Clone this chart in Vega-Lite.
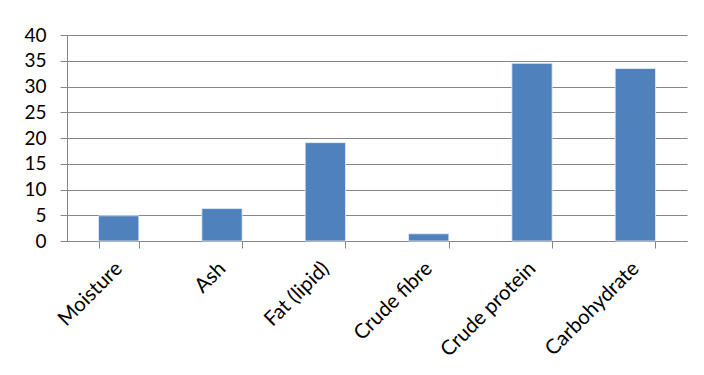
{
  "$schema": "https://vega.github.io/schema/vega-lite/v6.json",
  "autosize": {"type": "none"},
  "width": 620,
  "height": 206,
  "padding": {"left": 67, "top": 35, "right": 17, "bottom": 134},
  "background": "white",
  "data": {
    "values": [
      {"component": "Moisture", "value": 4.9},
      {"component": "Ash", "value": 6.3},
      {"component": "Fat (lipid)", "value": 19.1},
      {"component": "Crude fibre", "value": 1.4},
      {"component": "Crude protein", "value": 34.5},
      {"component": "Carbohydrate", "value": 33.5}
    ]
  },
  "mark": {"type": "bar", "color": "#4F81BD", "stroke": "#e8eef7", "strokeWidth": 0.8},
  "encoding": {
    "x": {
      "field": "component",
      "type": "nominal",
      "sort": null,
      "scale": {"paddingInner": 0.61, "paddingOuter": 0.305},
      "axis": {
        "title": null,
        "labelAngle": -45,
        "labelFont": "Lato",
        "labelFontSize": 20.5,
        "labelColor": "#000000",
        "labelPadding": 10,
        "labelOffset": -7,
        "tickBand": "extent",
        "tickSize": 7,
        "tickColor": "#868686",
        "domainColor": "#868686",
        "grid": false
      }
    },
    "y": {
      "field": "value",
      "type": "quantitative",
      "scale": {"domain": [0, 40], "nice": false},
      "axis": {
        "title": null,
        "values": [0, 5, 10, 15, 20, 25, 30, 35, 40],
        "labelFont": "Lato",
        "labelFontSize": 19,
        "labelColor": "#000000",
        "labelPadding": 14,
        "tickSize": 7,
        "tickColor": "#868686",
        "domainColor": "#868686",
        "gridColor": "#868686",
        "gridWidth": 1.2
      }
    }
  },
  "config": {"view": {"stroke": null}}
}
